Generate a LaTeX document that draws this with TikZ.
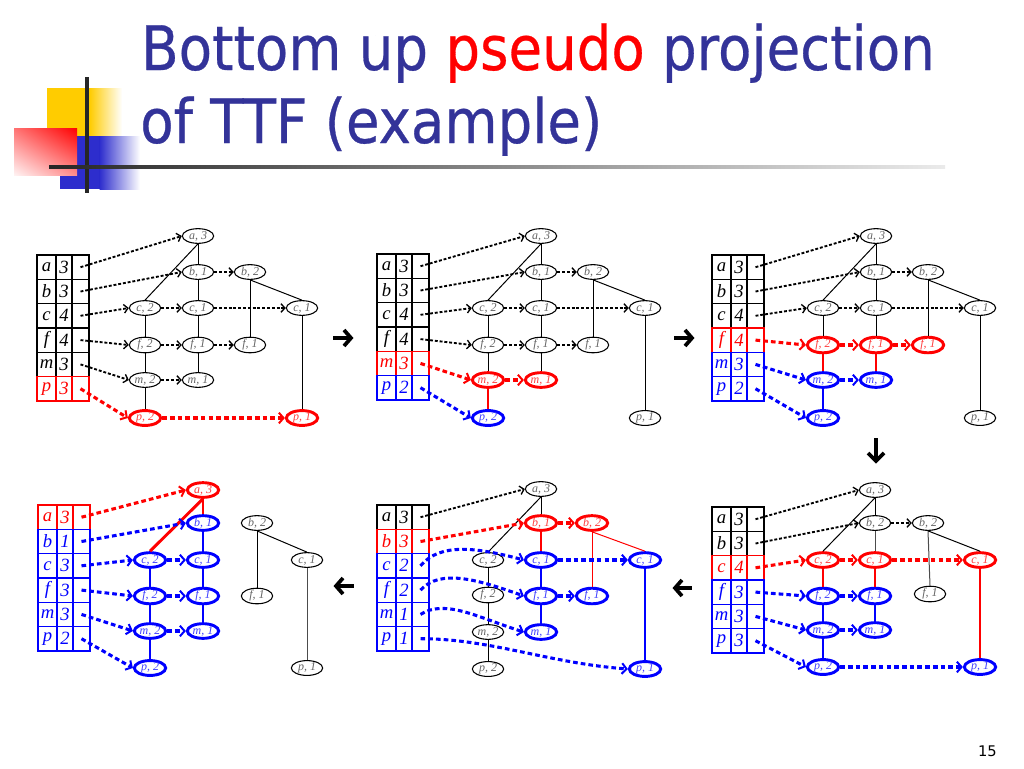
\documentclass[tikz,border=0pt]{standalone}
\usepackage{fontspec}
\usepackage{graphicx}
\usetikzlibrary{shapes.geometric,arrows.meta,shadings}
\setmainfont{Liberation Serif}
\newfontfamily\titlefont{DejaVu Sans}[FakeBold=0.5]
\newfontfamily\pagefont{DejaVu Sans}
\definecolor{titleblue}{RGB}{51,51,153}
\definecolor{logoyellow}{RGB}{255,204,0}
\definecolor{logoblue}{RGB}{45,45,205}
\newcommand{\ndfont}{\fontsize{9}{9}\selectfont\itshape}
\newcommand{\tbfont}{\fontsize{14}{15}\selectfont\itshape}
\tikzset{
  nd/.style={ellipse, draw=black, line width=0.8pt, minimum width=23.5pt, minimum height=11pt,
    inner sep=0pt, font=\ndfont, text=black!60, fill=white},
  ndR/.style={nd, draw=red, line width=2.2pt, text=red!75},
  ndB/.style={nd, draw=blue, line width=2.2pt, text=blue!75},
  ed/.style={draw=black, line width=0.75pt},
  edR/.style={draw=red, line width=2.2pt},
  edB/.style={draw=blue, line width=2.2pt},
  edRt/.style={draw=red, line width=0.75pt},
  lk/.style={draw=black, line width=1.4pt, dash pattern=on 2.2pt off 1.4pt,
    -{Straight Barb[length=3pt,width=6.5pt,line width=1pt]}},
  lkR/.style={draw=red, line width=2.3pt, dash pattern=on 3.5pt off 2.3pt,
    -{Straight Barb[length=3.5pt,width=8pt,line width=1.5pt]}},
  lkB/.style={lkR, draw=blue},
  cellA/.style={rectangle, minimum width=14.25pt, minimum height=18.2pt, inner sep=0pt, line width=1.1pt, font=\tbfont},
  cellB/.style={cellA, minimum width=12pt},
  cellC/.style={cellA, minimum width=12.75pt},
  bigarrow/.style={draw=black, line width=2.8pt, miter limit=10}
}
% prefix, letter, count, colour, table left x, row centre y
\newcommand{\trow}[6]{%
  \node[cellA,draw=#4,text=#4] (#1l) at (#5+9.5,#6) {#2};
  \node[cellB,draw=#4,text=#4] (#1n) at (#5+27,#6) {#3};
  \node[cellC,draw=#4] (#1) at (#5+43.5,#6) {};
}
\begin{document}
\begin{tikzpicture}[x=0.75pt,y=-0.75pt]
\useasboundingbox (0,0) rectangle (1024,768);
\fill[white] (0,0) rectangle (1024,768);

% ---------- logo ----------
\fill[logoyellow] (47,88) rectangle (90,137);
\shade[left color=logoyellow, right color=white] (89.5,88) rectangle (122,137);
\fill[logoblue] (60,136) rectangle (100,189);
\shade[left color=logoblue, right color=white] (99.5,136) rectangle (140,189);
\shade[upper right=red, upper left=red!55, lower right=red!45, lower left=red!5] (14,128) rectangle (77,175);
\draw[line width=2.4pt, black!85] (87,77) -- (87,193);
\shade[left color=black!85, right color=black!8] (49,165) rectangle (945,168.5);

% ---------- title ----------
\node[anchor=base west, inner sep=0pt, text=titleblue, font=\titlefont\fontsize{46}{50}\selectfont] (title1) at (141,70)
  {\scalebox{0.89}[1]{Bottom up \textcolor{red}{pseudo} projection}};
\node[anchor=base west, inner sep=0pt, text=titleblue, font=\titlefont\fontsize{46}{50}\selectfont] (title2) at (140,143)
  {\scalebox{0.89}[1]{of TTF (example)}};
\node[anchor=base east, inner sep=0pt, font=\pagefont\fontsize{11}{12}\selectfont] (pageno) at (997,756) {15};

% ---------- arrows between panels ----------
\draw[bigarrow] (333,338) -- (349,338);
\draw[bigarrow] (344,330) -- (351,338) -- (344,346);
\draw[bigarrow] (674,338) -- (690,338);
\draw[bigarrow] (685,330) -- (692,338) -- (685,346);
\draw[bigarrow] (876,438) -- (876,458);
\draw[bigarrow] (868,453) -- (876,461) -- (884,453);
\draw[bigarrow] (337,586) -- (354,586);
\draw[bigarrow] (343,578) -- (336,586) -- (343,594);
\draw[bigarrow] (676,588) -- (692,588);
\draw[bigarrow] (682,580) -- (675,588) -- (682,596);

% ================= Panel A (top left) =================
\trow{A-ta}{a}{3}{black}{37}{267.2}
\trow{A-tb}{b}{3}{black}{37}{291.5}
\trow{A-tc}{c}{4}{black}{37}{315.8}
\trow{A-tf}{f}{4}{black}{37}{340.1}
\trow{A-tm}{m}{3}{black}{37}{364.4}
\trow{A-tp}{p}{3}{red}{37}{388.7}
\node[nd] (A-a3) at (198,236) {a, 3};
\node[nd] (A-b1) at (198,272) {b, 1};
\node[nd] (A-b2) at (250,272) {b, 2};
\node[nd] (A-c2) at (145,308) {c, 2};
\node[nd] (A-c1) at (198,308) {c, 1};
\node[nd] (A-cR) at (302,308) {c, 1};
\node[nd] (A-f2) at (145,345) {f, 2};
\node[nd] (A-f1) at (198,345) {f, 1};
\node[nd] (A-fR) at (250,345) {f, 1};
\node[nd] (A-m2) at (145,380) {m, 2};
\node[nd] (A-m1) at (198,380) {m, 1};
\node[ndR] (A-p2) at (145,418) {p, 2};
\node[ndR] (A-p1) at (302,418) {p, 1};
\draw[ed] (A-a3.south) -- (A-b1.north);
\draw[ed] (A-a3.south) -- (A-c2.north);
\draw[ed] (A-b1.south) -- (A-c1.north);
\draw[ed] (A-c1.south) -- (A-f1.north);
\draw[ed] (A-f1.south) -- (A-m1.north);
\draw[ed] (A-c2.south) -- (A-f2.north);
\draw[ed] (A-f2.south) -- (A-m2.north);
\draw[ed] (A-m2.south) -- (A-p2.north);
\draw[ed] (A-b2.south) -- (A-fR.north);
\draw[ed] (A-b2.south) -- (A-cR.north);
\draw[ed] (A-cR.south) -- (A-p1.north);
\draw[lk] (A-ta.center) -- (A-a3.west);
\draw[lk] (A-tb.center) -- (A-b1.west);
\draw[lk] (A-tc.center) -- (A-c2.west);
\draw[lk] (A-tf.center) -- (A-f2.west);
\draw[lk] (A-tm.center) -- (A-m2.west);
\draw[lk] (A-b1.east) -- (A-b2.west);
\draw[lk] (A-c2.east) -- (A-c1.west);
\draw[lk] (A-c1.east) -- (A-cR.west);
\draw[lk] (A-f2.east) -- (A-f1.west);
\draw[lk] (A-f1.east) -- (A-fR.west);
\draw[lk] (A-m2.east) -- (A-m1.west);
\draw[lkR] (A-tp.center) -- (A-p2.west);
\draw[lkR] (A-p2.east) -- (A-p1.west);

% ================= Panel B (top middle) =================
\trow{B-ta}{a}{3}{black}{377}{266.2}
\trow{B-tb}{b}{3}{black}{377}{290.5}
\trow{B-tc}{c}{4}{black}{377}{314.8}
\trow{B-tf}{f}{4}{black}{377}{339.1}
\trow{B-tm}{m}{3}{red}{377}{363.4}
\trow{B-tp}{p}{2}{blue}{377}{387.7}
\node[nd] (B-a3) at (541,236) {a, 3};
\node[nd] (B-b1) at (541,272) {b, 1};
\node[nd] (B-b2) at (593,272) {b, 2};
\node[nd] (B-c2) at (488,308) {c, 2};
\node[nd] (B-c1) at (541,308) {c, 1};
\node[nd] (B-cR) at (645,308) {c, 1};
\node[nd] (B-f2) at (488,345) {f, 2};
\node[nd] (B-f1) at (541,345) {f, 1};
\node[nd] (B-fR) at (593,345) {f, 1};
\node[ndR] (B-m2) at (488,380) {m, 2};
\node[ndR] (B-m1) at (541,380) {m, 1};
\node[ndB] (B-p2) at (488,418) {p, 2};
\node[nd] (B-p1) at (645,418) {p, 1};
\draw[ed] (B-a3.south) -- (B-b1.north);
\draw[ed] (B-a3.south) -- (B-c2.north);
\draw[ed] (B-b1.south) -- (B-c1.north);
\draw[ed] (B-c1.south) -- (B-f1.north);
\draw[ed] (B-f1.south) -- (B-m1.north);
\draw[ed] (B-c2.south) -- (B-f2.north);
\draw[ed] (B-f2.south) -- (B-m2.north);
\draw[edR] (B-m2.south) -- (B-p2.north);
\draw[ed] (B-b2.south) -- (B-fR.north);
\draw[ed] (B-b2.south) -- (B-cR.north);
\draw[ed] (B-cR.south) -- (B-p1.north);
\draw[lk] (B-ta.center) -- (B-a3.west);
\draw[lk] (B-tb.center) -- (B-b1.west);
\draw[lk] (B-tc.center) -- (B-c2.west);
\draw[lk] (B-tf.center) -- (B-f2.west);
\draw[lk] (B-b1.east) -- (B-b2.west);
\draw[lk] (B-c2.east) -- (B-c1.west);
\draw[lk] (B-c1.east) -- (B-cR.west);
\draw[lk] (B-f2.east) -- (B-f1.west);
\draw[lk] (B-f1.east) -- (B-fR.west);
\draw[lkR] (B-tm.center) -- (B-m2.west);
\draw[lkR] (B-m2.east) -- (B-m1.west);
\draw[lkB] (B-tp.center) -- (B-p2.west);

% ================= Panel C (top right) =================
\trow{C-ta}{a}{3}{black}{712}{267.2}
\trow{C-tb}{b}{3}{black}{712}{291.5}
\trow{C-tc}{c}{4}{black}{712}{315.8}
\trow{C-tf}{f}{4}{red}{712}{340.1}
\trow{C-tm}{m}{3}{blue}{712}{364.4}
\trow{C-tp}{p}{2}{blue}{712}{388.7}
\node[nd] (C-a3) at (876,236) {a, 3};
\node[nd] (C-b1) at (876,272) {b, 1};
\node[nd] (C-b2) at (928,272) {b, 2};
\node[nd] (C-c2) at (823,308) {c, 2};
\node[nd] (C-c1) at (876,308) {c, 1};
\node[nd] (C-cR) at (980,308) {c, 1};
\node[ndR] (C-f2) at (823,345) {f, 2};
\node[ndR] (C-f1) at (876,345) {f, 1};
\node[ndR] (C-fR) at (928,345) {f, 1};
\node[ndB] (C-m2) at (823,380) {m, 2};
\node[ndB] (C-m1) at (876,380) {m, 1};
\node[ndB] (C-p2) at (823,418) {p, 2};
\node[nd] (C-p1) at (980,418) {p, 1};
\draw[ed] (C-a3.south) -- (C-b1.north);
\draw[ed] (C-a3.south) -- (C-c2.north);
\draw[ed] (C-b1.south) -- (C-c1.north);
\draw[ed] (C-c1.south) -- (C-f1.north);
\draw[edR] (C-f1.south) -- (C-m1.north);
\draw[ed] (C-c2.south) -- (C-f2.north);
\draw[edR] (C-f2.south) -- (C-m2.north);
\draw[edB] (C-m2.south) -- (C-p2.north);
\draw[ed] (C-b2.south) -- (C-fR.north);
\draw[ed] (C-b2.south) -- (C-cR.north);
\draw[ed] (C-cR.south) -- (C-p1.north);
\draw[lk] (C-ta.center) -- (C-a3.west);
\draw[lk] (C-tb.center) -- (C-b1.west);
\draw[lk] (C-tc.center) -- (C-c2.west);
\draw[lk] (C-b1.east) -- (C-b2.west);
\draw[lk] (C-c2.east) -- (C-c1.west);
\draw[lk] (C-c1.east) -- (C-cR.west);
\draw[lkR] (C-tf.center) -- (C-f2.west);
\draw[lkR] (C-f2.east) -- (C-f1.west);
\draw[lkR] (C-f1.east) -- (C-fR.west);
\draw[lkB] (C-tm.center) -- (C-m2.west);
\draw[lkB] (C-m2.east) -- (C-m1.west);
\draw[lkB] (C-tp.center) -- (C-p2.west);

% ================= Panel D (bottom left) =================
\trow{D-ta}{a}{3}{red}{38}{517.2}
\trow{D-tb}{b}{1}{blue}{38}{541.5}
\trow{D-tc}{c}{3}{blue}{38}{565.8}
\trow{D-tf}{f}{3}{blue}{38}{590.1}
\trow{D-tm}{m}{3}{blue}{38}{614.4}
\trow{D-tp}{p}{2}{blue}{38}{638.7}
\node[ndR] (D-a3) at (203,490) {a, 3};
\node[ndB] (D-b1) at (203,523) {b, 1};
\node[nd] (D-b2) at (257,523) {b, 2};
\node[ndB] (D-c2) at (150,560) {c, 2};
\node[ndB] (D-c1) at (203,560) {c, 1};
\node[nd] (D-cR) at (307,560) {c, 1};
\node[ndB] (D-f2) at (150,596) {f, 2};
\node[ndB] (D-f1) at (203,596) {f, 1};
\node[nd] (D-fR) at (257,596) {f, 1};
\node[ndB] (D-m2) at (150,631) {m, 2};
\node[ndB] (D-m1) at (203,631) {m, 1};
\node[ndB] (D-p2) at (150,668) {p, 2};
\node[nd] (D-p1) at (307,668) {p, 1};
\draw[edR] (D-a3.south) -- (D-b1.north);
\draw[edR] (D-a3.south) -- (D-c2.north);
\draw[edB] (D-b1.south) -- (D-c1.north);
\draw[edB] (D-c1.south) -- (D-f1.north);
\draw[edB] (D-f1.south) -- (D-m1.north);
\draw[edB] (D-c2.south) -- (D-f2.north);
\draw[edB] (D-f2.south) -- (D-m2.north);
\draw[edB] (D-m2.south) -- (D-p2.north);
\draw[ed] (D-b2.south) -- (D-fR.north);
\draw[ed] (D-b2.south) -- (D-cR.north);
\draw[ed, black!70] (D-cR.south) -- (D-p1.north);
\draw[lkR] (D-ta.center) -- (D-a3.west);
\draw[lkB] (D-tb.center) -- (D-b1.west);
\draw[lkB] (D-tc.center) -- (D-c2.west);
\draw[lkB] (D-tf.center) -- (D-f2.west);
\draw[lkB] (D-tm.center) -- (D-m2.west);
\draw[lkB] (D-tp.center) -- (D-p2.west);
\draw[lkB] (D-c2.east) -- (D-c1.west);
\draw[lkB] (D-f2.east) -- (D-f1.west);
\draw[lkB] (D-m2.east) -- (D-m1.west);

% ================= Panel E (bottom middle) =================
\trow{E-ta}{a}{3}{black}{377}{517.2}
\trow{E-tb}{b}{3}{red}{377}{541.5}
\trow{E-tc}{c}{2}{blue}{377}{565.8}
\trow{E-tf}{f}{2}{blue}{377}{590.1}
\trow{E-tm}{m}{1}{blue}{377}{614.4}
\trow{E-tp}{p}{1}{blue}{377}{638.7}
\node[nd] (E-a3) at (541,489) {a, 3};
\node[ndR] (E-b1) at (541,523) {b, 1};
\node[ndR] (E-b2) at (592,523) {b, 2};
\node[nd] (E-c2) at (488,560) {c, 2};
\node[ndB] (E-c1) at (541,560) {c, 1};
\node[ndB] (E-cR) at (645,560) {c, 1};
\node[nd] (E-f2) at (488,595) {f, 2};
\node[ndB] (E-f1) at (541,596) {f, 1};
\node[ndB] (E-fR) at (592,596) {f, 1};
\node[nd] (E-m2) at (488,632) {m, 2};
\node[ndB] (E-m1) at (541,632) {m, 1};
\node[nd] (E-p2) at (488,669) {p, 2};
\node[ndB] (E-p1) at (645,669) {p, 1};
\draw[ed] (E-a3.south) -- (E-b1.north);
\draw[ed] (E-a3.south) -- (E-c2.north);
\draw[ed] (E-c2.south) -- (E-f2.north);
\draw[ed] (E-f2.south) -- (E-m2.north);
\draw[ed] (E-m2.south) -- (E-p2.north);
\draw[edR] (E-b1.south) -- (E-c1.north);
\draw[edRt] (E-b2.south) -- (E-fR.north);
\draw[edRt] (E-b2.south) -- (E-cR.north);
\draw[edB] (E-c1.south) -- (E-f1.north);
\draw[edB] (E-f1.south) -- (E-m1.north);
\draw[edB] (E-cR.south) -- (E-p1.north);
\draw[lk] (E-ta.center) -- (E-a3.west);
\draw[lkR] (E-tb.center) -- (E-b1.west);
\draw[lkR] (E-b1.east) -- (E-b2.west);
\draw[lkB] (E-tc.center) .. controls +(20,-24) and +(-45,-12) .. (E-c1.west);
\draw[lkB] (E-tf.center) .. controls +(20,-22) and +(-45,-16) .. (E-f1.west);
\draw[lkB] (E-tm.center) .. controls +(25,-16) and +(-45,-14) .. (E-m1.west);
\draw[lkB] (E-tp.center) .. controls +(70,0) and +(-80,-6) .. (E-p1.west);
\draw[lkB] (E-c1.east) -- (E-cR.west);
\draw[lkB] (E-f1.east) -- (E-fR.west);

% ================= Panel F (bottom right) =================
\trow{F-ta}{a}{3}{black}{712}{519.2}
\trow{F-tb}{b}{3}{black}{712}{543.5}
\trow{F-tc}{c}{4}{red}{712}{567.8}
\trow{F-tf}{f}{3}{blue}{712}{592.1}
\trow{F-tm}{m}{3}{blue}{712}{616.4}
\trow{F-tp}{p}{3}{blue}{712}{640.7}
\node[nd] (F-a3) at (875,490) {a, 3};
\node[nd] (F-bm) at (875,523) {b, 2};
\node[nd] (F-b2) at (928,523) {b, 2};
\node[ndR] (F-c2) at (823,560) {c, 2};
\node[ndR] (F-c1) at (875,560) {c, 1};
\node[ndR] (F-cR) at (980,560) {c, 1};
\node[ndB] (F-f2) at (823,596) {f, 2};
\node[ndB] (F-f1) at (875,596) {f, 1};
\node[nd] (F-fR) at (930,594) {f, 1};
\node[ndB] (F-m2) at (823,630) {m, 2};
\node[ndB] (F-m1) at (875,630) {m, 1};
\node[ndB] (F-p2) at (823,667) {p, 2};
\node[ndB] (F-p1) at (980,667) {p, 1};
\draw[ed] (F-a3.south) -- (F-bm.north);
\draw[ed] (F-a3.south) -- (F-c2.north);
\draw[ed, black!70] (F-bm.south) -- (F-c1.north);
\draw[ed, black!70] (F-b2.south) -- (F-fR.north);
\draw[ed] (F-b2.south) -- (F-cR.north);
\draw[edR] (F-c2.south) -- (F-f2.north);
\draw[edR] (F-c1.south) -- (F-f1.north);
\draw[edR] (F-cR.south) -- (F-p1.north);
\draw[edB] (F-f2.south) -- (F-m2.north);
\draw[edB] (F-f1.south) -- (F-m1.north);
\draw[edB] (F-m2.south) -- (F-p2.north);
\draw[lk] (F-ta.center) -- (F-a3.west);
\draw[lk] (F-tb.center) -- (F-bm.west);
\draw[lk] (F-bm.east) -- (F-b2.west);
\draw[lkR] (F-tc.center) -- (F-c2.west);
\draw[lkR] (F-c2.east) -- (F-c1.west);
\draw[lkR] (F-c1.east) -- (F-cR.west);
\draw[lkB] (F-tf.center) -- (F-f2.west);
\draw[lkB] (F-f2.east) -- (F-f1.west);
\draw[lkB] (F-tm.center) -- (F-m2.west);
\draw[lkB] (F-m2.east) -- (F-m1.west);
\draw[lkB] (F-tp.center) -- (F-p2.west);
\draw[lkB] (F-p2.east) -- (F-p1.west);
\end{tikzpicture}
\end{document}
